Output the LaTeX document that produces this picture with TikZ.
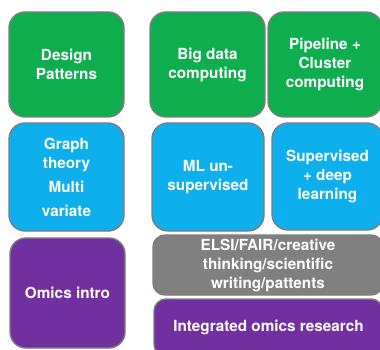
\documentclass[tikz,border=0pt]{standalone}
\usepackage{fontspec}
\setmainfont{TeX Gyre Heros}
\definecolor{tilegreen}{RGB}{14,173,78}
\definecolor{tileblue}{RGB}{13,175,236}
\definecolor{tilepurple}{RGB}{112,48,160}
\definecolor{tilegray}{RGB}{128,128,128}
\definecolor{tileedge}{RGB}{125,125,125}

\begin{document}
\begin{tikzpicture}[x=1pt, y=-1pt,
    tile/.style={draw=tileedge, line width=1.4pt, rounded corners=16pt, text=white,
        font=\bfseries\fontsize{15.3}{19}\selectfont, align=center, inner sep=0pt},
    greentile/.style={tile, fill=tilegreen},
    bluetile/.style={tile, fill=tileblue},
    purpletile/.style={tile, fill=tilepurple},
    graytile/.style={tile, fill=tilegray, rounded corners=12pt}]
            \clip (0,0) rectangle (380,350);
            \useasboundingbox (0,0) rectangle (380,350);

            % top row
            \node[greentile, minimum width=115, minimum height=105] (design) at (66.5,64.5) {Design\\Patterns};
            \node[greentile, minimum width=115, minimum height=105] (bigdata) at (207.5,64.5) {Big data\\computing};
            \node[greentile, minimum width=114, minimum height=105] (pipeline) at (325,64.5) {Pipeline +\\Cluster\\computing};

            % middle row
            \node[bluetile, minimum width=115, minimum height=108] (graph) at (66.5,177) {Graph\\theory\\[5pt]Multi\\[5pt]variate};
            \node[bluetile, minimum width=112, minimum height=108] (ml) at (208,177) {ML un-\\supervised};
            \node[bluetile, minimum width=111, minimum height=107] (supervised) at (327.5,176.5) {Supervised\\+ deep\\learning};

            % bottom row
            \node[purpletile, minimum width=115, minimum height=110] (omics) at (67.5,293) {Omics intro};
            \node[graytile, minimum width=230, minimum height=60] (elsi) at (268,265) {ELSI/FAIR/creative\\thinking/scientific\\writing/pattents};
            \node[purpletile, rounded corners=12pt, minimum width=229, minimum height=57] (integrated) at (268.5,327.5) {Integrated omics research};
     \end{tikzpicture}
\end{document}
